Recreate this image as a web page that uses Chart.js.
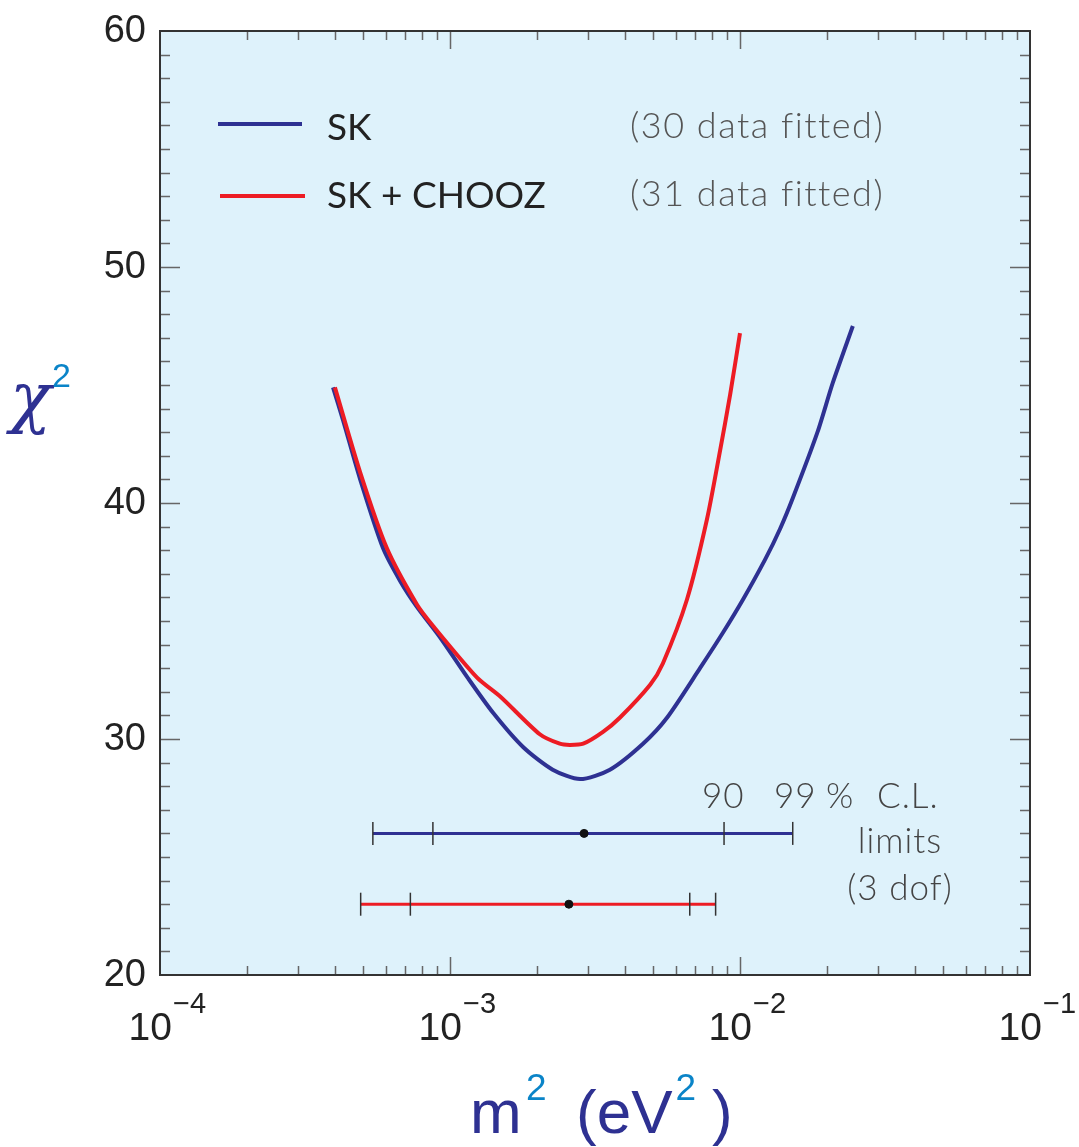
<!DOCTYPE html>
<html>
<head>
<meta charset="utf-8">
<script src="https://cdn.jsdelivr.net/npm/chart.js@4.4.1/dist/chart.umd.min.js"></script>
<style>
  html, body { margin: 0; padding: 0; background: #ffffff; }
  #wrap { width: 1079px; height: 1147px; }
</style>
</head>
<body>
<div id="wrap"><canvas id="chi2" width="1079" height="1147"></canvas></div>
<script>
// chi^2 versus m^2 (eV^2)
const skM2 = [3.95e-4, 4.28e-4, 4.90e-4, 5.87e-4, 6.73e-4, 7.69e-4, 9.25e-4, 1.15e-3, 1.41e-3,
  1.79e-3, 2.26e-3, 2.81e-3, 3.56e-3, 4.63e-3, 5.60e-3, 7.28e-3, 8.73e-3, 1.023e-2, 1.22e-2,
  1.374e-2, 1.52e-2, 1.85e-2, 2.09e-2, 2.45e-2];
const skChi2 = [44.9, 43.5, 41.0, 38.1, 36.7, 35.6, 34.3, 32.6, 31.1,
  29.65, 28.7, 28.3, 28.7, 29.8, 30.9, 33.0, 34.5, 35.9, 37.6,
  38.9, 40.2, 43.0, 45.1, 47.5];

const choozM2 = [4.01e-4, 4.90e-4, 6.05e-4, 7.69e-4, 8.73e-4, 1.24e-3, 1.49e-3, 2.04e-3, 2.39e-3,
  2.59e-3, 2.88e-3, 3.37e-3, 3.85e-3, 4.90e-3, 5.42e-3, 6.56e-3, 7.69e-3, 8.53e-3, 9.25e-3, 1.0e-2];
const choozChi2 = [44.9, 41.3, 38.1, 35.7, 34.8, 32.6, 31.8, 30.2, 29.8,
  29.75, 29.8, 30.3, 30.9, 32.3, 33.2, 35.9, 39.3, 42.2, 44.6, 47.2];

// C.L. limits: [99% low, 90% low, best fit, 90% high, 99% high]
const skLimits = [5.42e-4, 8.73e-4, 2.90e-3, 8.81e-3, 1.52e-2];
const skLimitsChi2 = 26;
const choozLimits = [4.92e-4, 7.30e-4, 2.57e-3, 6.71e-3, 8.24e-3];
const choozLimitsChi2 = 23;

const yTicks = [20, 30, 40, 50, 60];
const xExponents = [-4, -3, -2, -1];

const BLUE = '#2e3192';
const RED = '#ed1c24';
const CYAN = '#0a84c8';

function pts(xs, ys) {
  return xs.map(function (x, i) { return { x: x, y: ys[i] }; });
}
function flat(xs, y) {
  return xs.map(function (x) { return { x: x, y: y }; });
}

const framePlugin = {
  id: 'frame',
  beforeDatasetsDraw(chart) {
    const a = chart.chartArea;
    const ctx = chart.ctx;
    ctx.save();
    ctx.fillStyle = '#def2fb';
    ctx.fillRect(a.left, a.top, a.right - a.left, a.bottom - a.top);
    ctx.restore();
  },
  afterDatasetsDraw(chart) {
    const a = chart.chartArea;
    const ctx = chart.ctx;
    const xs = chart.scales.x;
    const ys = chart.scales.y;
    ctx.save();
    ctx.strokeStyle = '#666';
    ctx.lineWidth = 1.5;
    ctx.beginPath();
    // y ticks every unit, longer every ten
    for (let v = 21; v < 60; v++) {
      const py = Math.round(ys.getPixelForValue(v)) + 0.5;
      const len = v % 10 === 0 ? 20 : 10;
      ctx.moveTo(a.left, py); ctx.lineTo(a.left + len, py);
      ctx.moveTo(a.right, py); ctx.lineTo(a.right - len, py);
    }
    // log x ticks
    for (let e = -4; e < -1; e++) {
      for (let m = 1; m <= 9; m++) {
        if (e === -4 && m === 1) continue;
        const px = Math.round(xs.getPixelForValue(m * Math.pow(10, e))) + 0.5;
        const len = m === 1 ? 18 : 9;
        ctx.moveTo(px, a.bottom); ctx.lineTo(px, a.bottom - len);
        ctx.moveTo(px, a.top); ctx.lineTo(px, a.top + len);
      }
    }
    ctx.stroke();
    ctx.strokeStyle = '#333';
    ctx.lineWidth = 2;
    ctx.strokeRect(a.left, a.top, a.right - a.left, a.bottom - a.top);
    ctx.restore();
  },
  afterDraw(chart) {
    const a = chart.chartArea;
    const ctx = chart.ctx;
    const xs = chart.scales.x;
    const ys = chart.scales.y;
    ctx.save();

    // y tick labels
    ctx.fillStyle = '#222';
    ctx.font = '38px "Liberation Sans", Arial, sans-serif';
    ctx.textAlign = 'right';
    ctx.textBaseline = 'middle';
    yTicks.forEach(function (v) {
      ctx.fillText(String(v), a.left - 14, ys.getPixelForValue(v) + 1);
    });

    // x tick labels 10^n
    ctx.textBaseline = 'alphabetic';
    xExponents.forEach(function (e) {
      const px = xs.getPixelForValue(Math.pow(10, e));
      ctx.font = '39px "Liberation Sans", Arial, sans-serif';
      ctx.textAlign = 'right';
      ctx.fillText('10', px + 12, a.bottom + 65);
      ctx.font = '29px "Liberation Sans", Arial, sans-serif';
      ctx.textAlign = 'left';
      ctx.fillText('\u2212' + Math.abs(e), px + 13, a.bottom + 38);
    });

    // y axis title chi^2
    ctx.fillStyle = BLUE;
    ctx.font = 'italic 68px "DejaVu Serif", "Liberation Serif", serif';
    ctx.textAlign = 'left';
    ctx.fillText('\u03c7', 10, 420);
    ctx.fillStyle = CYAN;
    ctx.font = '34px "Liberation Sans", Arial, sans-serif';
    ctx.fillText('2', 52, 387);

    // x axis title m^2 (eV^2)
    ctx.fillStyle = BLUE;
    ctx.font = '62px "Liberation Sans", Arial, sans-serif';
    ctx.fillText('m', 470, 1133);
    ctx.fillText('(eV', 576, 1133);
    const evEnd = 576 + ctx.measureText('(eV').width;
    ctx.fillText(')', 712, 1133);
    ctx.fillStyle = CYAN;
    ctx.font = '37px "Liberation Sans", Arial, sans-serif';
    ctx.fillText('2', 526, 1100);
    ctx.fillText('2', evEnd + 3, 1100);

    // legend
    ctx.lineWidth = 4;
    ctx.strokeStyle = BLUE;
    ctx.beginPath(); ctx.moveTo(218, 124); ctx.lineTo(302, 124); ctx.stroke();
    ctx.strokeStyle = RED;
    ctx.beginPath(); ctx.moveTo(220, 196); ctx.lineTo(305, 196); ctx.stroke();

    ctx.fillStyle = '#222';
    ctx.font = '37px Lato, "Open Sans", sans-serif';
    ctx.fillText('SK', 327, 140);
    ctx.fillText('SK + CHOOZ', 327, 208);

    ctx.fillStyle = '#555';
    ctx.font = '300 36px Lato, "Open Sans", sans-serif';
    ctx.letterSpacing = '1.5px';
    ctx.fillText('(30 data fitted)', 630, 138);
    ctx.fillText('(31 data fitted)', 630, 206);

    // C.L. note
    ctx.fillStyle = '#444';
    ctx.font = '300 35px Lato, "Open Sans", sans-serif';
    ctx.letterSpacing = '1px';
    ctx.fillText('90', 702, 808);
    ctx.fillText('99', 774, 808);
    ctx.fillText('%', 826, 808);
    ctx.fillText('C.L.', 877, 808);
    ctx.textAlign = 'center';
    ctx.fillText('limits', 900, 853);
    ctx.fillText('(3 dof)', 900, 900);

    ctx.restore();
  }
};

const ctx = document.getElementById('chi2').getContext('2d');

new Chart(ctx, {
  type: 'scatter',
  data: {
    datasets: [
      {
        label: 'best fit',
        data: [{ x: skLimits[2], y: skLimitsChi2 }, { x: choozLimits[2], y: choozLimitsChi2 }],
        pointStyle: 'circle',
        pointRadius: 4,
        pointBackgroundColor: '#111',
        pointBorderColor: '#111',
        showLine: false,
        order: 0
      },
      {
        label: 'limits',
        data: flat([skLimits[0], skLimits[1], skLimits[3], skLimits[4]], skLimitsChi2)
          .concat(flat([choozLimits[0], choozLimits[1], choozLimits[3], choozLimits[4]], choozLimitsChi2)),
        pointStyle: 'line',
        rotation: 90,
        pointRadius: 11.5,
        pointBorderColor: '#333',
        pointBorderWidth: 1.5,
        showLine: false,
        order: 1
      },
      {
        label: 'SK range',
        data: flat([skLimits[0], skLimits[4]], skLimitsChi2),
        borderColor: BLUE,
        borderWidth: 3,
        pointRadius: 0,
        showLine: true,
        order: 2
      },
      {
        label: 'SK + CHOOZ range',
        data: flat([choozLimits[0], choozLimits[4]], choozLimitsChi2),
        borderColor: RED,
        borderWidth: 3,
        pointRadius: 0,
        showLine: true,
        order: 2
      },
      {
        label: 'SK + CHOOZ',
        data: pts(choozM2, choozChi2),
        borderColor: RED,
        borderWidth: 4,
        pointRadius: 0,
        showLine: true,
        tension: 0.25,
        order: 3
      },
      {
        label: 'SK',
        data: pts(skM2, skChi2),
        borderColor: BLUE,
        borderWidth: 4,
        pointRadius: 0,
        showLine: true,
        tension: 0.25,
        order: 4
      }
    ]
  },
  options: {
    responsive: false,
    devicePixelRatio: 1,
    animation: false,
    layout: {
      padding: { left: 160, top: 31, right: 49, bottom: 172 }
    },
    plugins: {
      legend: { display: false },
      tooltip: { enabled: false }
    },
    scales: {
      x: {
        type: 'logarithmic',
        min: 1e-4,
        max: 1e-1,
        display: false
      },
      y: {
        type: 'linear',
        min: 20,
        max: 60,
        display: false
      }
    }
  },
  plugins: [framePlugin]
});
</script>
</body>
</html>
